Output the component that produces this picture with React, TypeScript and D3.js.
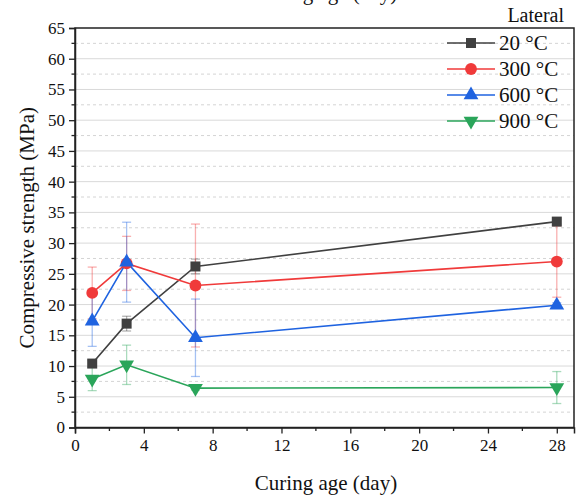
import React, { useEffect, useRef } from 'react';
import * as d3 from 'd3';

// curing age (day)
const days = [1, 3, 7, 28];

const seriesNames = ['20 °C', '300 °C', '600 °C', '900 °C'];
const strength20 = [10.4, 16.9, 26.2, 33.5];
const strength300 = [21.9, 26.7, 23.1, 27.0];
const strength600 = [17.3, 26.9, 14.6, 19.9];
const strength900 = [7.9, 10.2, 6.4, 6.5];

const error20 = [0.5, 1.2, 1.2, 0.4];
const error300 = [4.2, 4.4, 10.0, 5.8];
const error600 = [4.1, 6.5, 6.3, 0.4];
const error900 = [1.9, 3.2, 0.3, 2.6];

const xTicks = [0, 4, 8, 12, 16, 20, 24, 28];
const yTicks = [0, 5, 10, 15, 20, 25, 30, 35, 40, 45, 50, 55, 60, 65];

const FONT = 'Liberation Serif, DejaVu Serif, serif';

const App = () => {
   const svgRef = useRef<SVGSVGElement>(null);

   useEffect(() => {
      const svg = d3.select(svgRef.current);
      svg.selectAll('*').remove();

      const W = 584;
      const H = 496;
      const left = 75, right = 574, top = 28, bottom = 427.5;

      svg.attr('width', W).attr('height', H).attr('font-family', FONT);

      const x = d3.scaleLinear().domain([0, 29]).range([left, right]);
      const y = d3.scaleLinear().domain([0, 65]).range([bottom, top]);

      const series = [
         { name: seriesNames[0], values: strength20, errors: error20, color: '#404040', symbol: d3.symbolSquare, size: 100, rotate: 0 },
         { name: seriesNames[1], values: strength300, errors: error300, color: '#f03a3a', symbol: d3.symbolCircle, size: 110, rotate: 0 },
         { name: seriesNames[2], values: strength600, errors: error600, color: '#1f63e0', symbol: d3.symbolTriangle, size: 95, rotate: 0 },
         { name: seriesNames[3], values: strength900, errors: error900, color: '#2aa55a', symbol: d3.symbolTriangle, size: 95, rotate: 180 },
      ];

      // cut-off title from the panel above
      svg.append('text')
         .attr('x', 326).attr('y', 0)
         .attr('text-anchor', 'middle')
         .attr('font-family', FONT).attr('font-size', 21).attr('fill', '#111')
         .text('Curing age (day)');

      // grid lines
      const g = svg.append('g');
      const minorY = d3.range(2.5, 65, 5);
      g.selectAll('.grid-major')
         .data(yTicks.filter(d => d > 0 && d < 65))
         .enter().append('line')
         .attr('x1', left).attr('x2', right)
         .attr('y1', d => y(d)).attr('y2', d => y(d))
         .attr('stroke', '#d9d9d9').attr('stroke-width', 1);
      g.selectAll('.grid-minor')
         .data(minorY)
         .enter().append('line')
         .attr('x1', left).attr('x2', right)
         .attr('y1', d => y(d)).attr('y2', d => y(d))
         .attr('stroke', '#d4d4d4').attr('stroke-width', 1)
         .attr('stroke-dasharray', '3,3');

      // error bars
      series.forEach(s => {
         const eg = svg.append('g')
            .attr('stroke', s.color)
            .attr('stroke-opacity', 0.4)
            .attr('stroke-width', 1.3);
         days.forEach((d, i) => {
            const cx = x(d);
            const y0 = y(s.values[i] - s.errors[i]);
            const y1 = y(s.values[i] + s.errors[i]);
            eg.append('line').attr('x1', cx).attr('x2', cx).attr('y1', y0).attr('y2', y1);
            eg.append('line').attr('x1', cx - 4.5).attr('x2', cx + 4.5).attr('y1', y0).attr('y2', y0);
            eg.append('line').attr('x1', cx - 4.5).attr('x2', cx + 4.5).attr('y1', y1).attr('y2', y1);
         });
      });

      // lines
      const line = d3.line<number>()
         .x((_, i) => x(days[i]))
         .y(v => y(v));

      series.forEach(s => {
         svg.append('path')
            .datum(s.values)
            .attr('fill', 'none')
            .attr('stroke', s.color)
            .attr('stroke-width', 1.6)
            .attr('d', line);
      });

      // markers
      series.forEach(s => {
         const sym = d3.symbol().type(s.symbol).size(s.size);
         svg.selectAll(null)
            .data(s.values)
            .enter().append('path')
            .attr('d', sym)
            .attr('transform', (v, i) => `translate(${x(days[i])},${y(v)}) rotate(${s.rotate})`)
            .attr('fill', s.color);
      });

      // frame
      svg.append('rect')
         .attr('x', left).attr('y', top)
         .attr('width', right - left).attr('height', bottom - top)
         .attr('fill', 'none').attr('stroke', '#222').attr('stroke-width', 1.5);

      // x axis
      const xAxis = svg.append('g').attr('transform', `translate(0,${bottom})`);
      xAxis.call(d3.axisBottom(x).tickValues(xTicks).tickSize(6).tickPadding(5).tickFormat(d3.format('d')));
      xAxis.selectAll('.minor')
         .data(d3.range(2, 29, 4))
         .enter().append('line')
         .attr('x1', d => x(d)).attr('x2', d => x(d))
         .attr('y1', 0).attr('y2', 3.5)
         .attr('stroke', '#222').attr('stroke-width', 1.3);

      // y axis
      const yAxis = svg.append('g').attr('transform', `translate(${left},0)`);
      yAxis.call(d3.axisLeft(y).tickValues(yTicks).tickSize(6).tickPadding(4).tickFormat(d3.format('d')));
      yAxis.selectAll('.minor')
         .data(minorY)
         .enter().append('line')
         .attr('x1', 0).attr('x2', -3.5)
         .attr('y1', d => y(d)).attr('y2', d => y(d))
         .attr('stroke', '#222').attr('stroke-width', 1.3);

      svg.selectAll('.domain').attr('stroke', '#222').attr('stroke-width', 1.5);
      svg.selectAll('.tick line').attr('stroke', '#222').attr('stroke-width', 1.3);
      xAxis.attr('font-family', FONT).attr('font-size', 17);
      yAxis.attr('font-family', FONT).attr('font-size', 17);
      svg.selectAll('.tick text').attr('fill', '#111');

      // axis titles
      svg.append('text')
         .attr('x', 326).attr('y', 490)
         .attr('text-anchor', 'middle')
         .attr('font-family', FONT).attr('font-size', 21).attr('fill', '#111')
         .text('Curing age (day)');

      svg.append('text')
         .attr('transform', `translate(34,${(top + bottom) / 2}) rotate(-90)`)
         .attr('text-anchor', 'middle')
         .attr('font-family', FONT).attr('font-size', 21).attr('fill', '#111')
         .text('Compressive strength (MPa)');

      // legend
      svg.append('text')
         .attr('x', 564).attr('y', 22)
         .attr('text-anchor', 'end')
         .attr('font-family', FONT).attr('font-size', 20).attr('fill', '#111')
         .text('Lateral');

      const legend = svg.append('g');
      series.forEach((s, i) => {
         const ly = 43 + i * 26;
         legend.append('line')
            .attr('x1', 447).attr('x2', 495)
            .attr('y1', ly).attr('y2', ly)
            .attr('stroke', s.color).attr('stroke-width', 1.6);
         legend.append('path')
            .attr('d', d3.symbol().type(s.symbol).size(s.size)())
            .attr('transform', `translate(471,${ly}) rotate(${s.rotate})`)
            .attr('fill', s.color);
         legend.append('text')
            .attr('x', 499).attr('y', ly)
            .attr('dy', '0.35em')
            .attr('font-family', FONT).attr('font-size', 21).attr('fill', '#111')
            .text(s.name);
      });
   }, []);

   return (
      <svg ref={svgRef} style={{ position: 'absolute', left: 0, top: 0, background: '#fff' }}></svg>
   );
};

export default App;
